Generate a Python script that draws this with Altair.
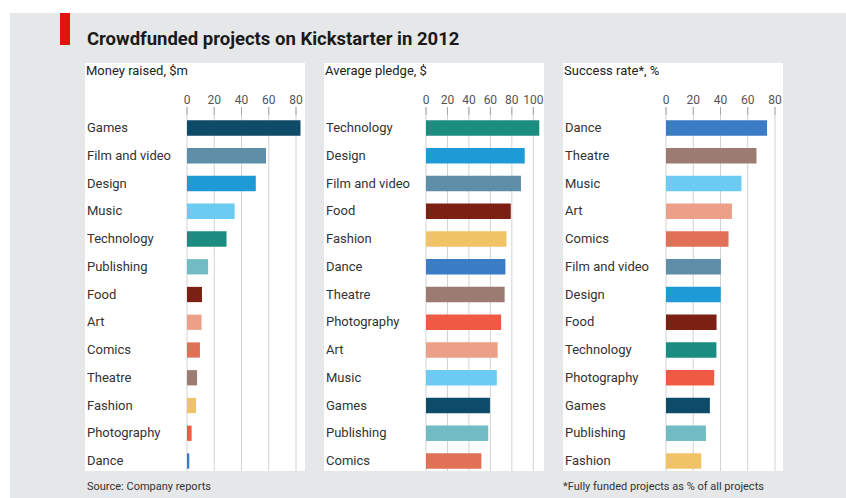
import altair as alt
import pandas as pd

# ---- data ----
money_cats = ["Games", "Film and video", "Design", "Music", "Technology", "Publishing",
              "Food", "Art", "Comics", "Theatre", "Fashion", "Photography", "Dance"]
money_vals = [83.3, 58, 50.5, 35, 29, 15.5, 11, 10.7, 9.5, 7.4, 6.6, 3.4, 1.7]

pledge_cats = ["Technology", "Design", "Film and video", "Food", "Fashion", "Dance",
               "Theatre", "Photography", "Art", "Music", "Games", "Publishing", "Comics"]
pledge_vals = [105.6, 92, 88.5, 79, 75, 74, 73.3, 70, 66.8, 66, 59.6, 58, 51.6]

success_cats = ["Dance", "Theatre", "Music", "Art", "Comics", "Film and video", "Design",
                "Food", "Technology", "Photography", "Games", "Publishing", "Fashion"]
success_vals = [74.2, 66.4, 55.4, 48.4, 45.9, 40.3, 40.2, 37.1, 37, 35.4, 32.2, 29.3, 25.9]

money_ticks = [0, 20, 40, 60, 80]
pledge_ticks = [0, 20, 40, 60, 80, 100]
success_ticks = [0, 20, 40, 60, 80]

color_cats = ["Games", "Film and video", "Design", "Music", "Technology", "Publishing",
              "Food", "Art", "Comics", "Theatre", "Fashion", "Photography", "Dance"]
color_vals = ["#0d4b68", "#5f8fa8", "#1e9bd7", "#6ccbf2", "#1b8c80", "#70bcc2",
              "#7b2013", "#eda088", "#e17156", "#9c7b73", "#f0c466", "#ef5a44", "#3a7cc6"]

title_text = "Crowdfunded projects on Kickstarter in 2012"
headers = ["Money raised, $m", "Average pledge, $", "Success rate*, %"]
source_text = "Source: Company reports"
note_text = "*Fully funded projects as % of all projects"

FONT = "Roboto"
W, H = 220, 408
one = alt.Data(values=[{"a": 1}])


def panel(cats, vals, ticks, header, tmax, r0, r1, extra=None):
    df = pd.DataFrame({"category": cats, "value": vals})
    tdf = pd.DataFrame({"t": ticks})
    xscale = alt.Scale(domain=[0, tmax], range=[r0, r1], nice=False, zero=True)
    yscale = alt.Scale(domain=cats, range=[51.125, 411.875], paddingInner=0.45, paddingOuter=0.225)

    white = alt.Chart(one).mark_rect(color="white").encode(
        x=alt.value(0), x2=alt.value(W), y=alt.value(0), y2=alt.value(H))
    grid = alt.Chart(tdf).mark_rule(color="#d2d2d2", strokeWidth=1).encode(
        x=alt.X("t:Q", scale=xscale, axis=None),
        y=alt.value(44), y2=alt.value(H))
    tick = alt.Chart(tdf).mark_rule(color="#a8a8a8", strokeWidth=1).encode(
        x=alt.X("t:Q", scale=xscale, axis=None),
        y=alt.value(44), y2=alt.value(52))
    tlabels = alt.Chart(tdf).mark_text(align="center", baseline="middle", font=FONT, fontSize=12,
                                       color="#555555").encode(
        x=alt.X("t:Q", scale=xscale, axis=None),
        y=alt.value(37), text="t:Q")
    bars = alt.Chart(df).mark_bar().encode(
        x=alt.X("value:Q", scale=xscale, axis=None),
        y=alt.Y("category:N", scale=yscale, axis=None, sort=None),
        color=alt.Color("category:N", scale=alt.Scale(domain=color_cats, range=color_vals), legend=None))
    labels = alt.Chart(df).mark_text(align="left", baseline="middle", font=FONT, fontSize=13,
                                     color="#333333").encode(
        x=alt.value(2),
        y=alt.Y("category:N", scale=yscale, axis=None, sort=None),
        text="category:N")
    head = alt.Chart(one).mark_text(align="left", baseline="middle", font=FONT, fontSize=13,
                                    color="#222222").encode(
        x=alt.value(1), y=alt.value(8), text=alt.value(header))
    layers = ((extra or {}).get("pre", []) + [white, grid, tick, tlabels, bars, labels, head]
              + (extra or {}).get("post", []))
    return alt.layer(*layers).properties(width=W, height=H)


grey = alt.Chart(one).mark_rect(color="#e6e7e8").encode(
    x=alt.value(-75), x2=alt.value(761), y=alt.value(-50), y2=alt.value(435))
red = alt.Chart(one).mark_rect(color="#e3120b").encode(
    x=alt.value(-25), x2=alt.value(-15), y=alt.value(-50), y2=alt.value(-18))
title = alt.Chart(one).mark_text(align="left", baseline="middle", font=FONT, fontSize=18.5,
                                 fontWeight="bold", color="#1a1a1a").encode(
    x=alt.value(2), y=alt.value(-24), text=alt.value(title_text))
source = alt.Chart(one).mark_text(align="left", baseline="middle", font=FONT, fontSize=11,
                                  color="#333333").encode(
    x=alt.value(2), y=alt.value(424), text=alt.value(source_text))
note = alt.Chart(one).mark_text(align="left", baseline="middle", font=FONT, fontSize=11,
                                color="#333333").encode(
    x=alt.value(0), y=alt.value(424), text=alt.value(note_text))

p1 = panel(money_cats, money_vals, money_ticks, headers[0], 80, 102, 211,
           extra={"pre": [grey], "post": [red, title, source]})
p2 = panel(pledge_cats, pledge_vals, pledge_ticks, headers[1], 100, 102, 209.3)
p3 = panel(success_cats, success_vals, success_ticks, headers[2], 80, 103, 212,
           extra={"post": [note]})

chart = alt.hconcat(p1, p2, p3, spacing=19, bounds="flush").properties(
    padding={"left": 10, "top": 13, "right": 0, "bottom": 0},
    background="white",
).configure_view(stroke=None).resolve_scale(color="shared")

chart.save("out.html", embed_options={"renderer": "svg", "actions": False})
